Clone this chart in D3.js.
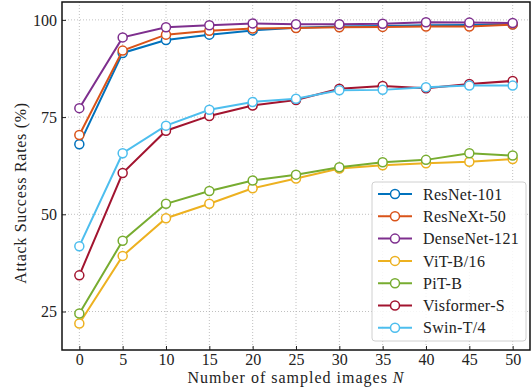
<!DOCTYPE html>
<html>
<head>
<meta charset="utf-8">
<script src="https://cdn.jsdelivr.net/npm/d3@7"></script>
<style>
  body { margin: 0; background: #fff; }
  svg text { font-family: "Liberation Serif", "Times New Roman", serif; fill: #222; }
</style>
</head>
<body>
<main></main>
<script>
const xValues = [0, 5, 10, 15, 20, 25, 30, 35, 40, 45, 50];
const xTicks = [0, 5, 10, 15, 20, 25, 30, 35, 40, 45, 50];
const yTicks = [25, 50, 75, 100];

const resnet101 = [68.0, 91.5, 94.8, 96.2, 97.3, 98.0, 98.3, 98.4, 98.6, 98.7, 98.9];
const resnext50 = [70.4, 92.1, 96.2, 97.2, 97.8, 97.9, 98.1, 98.2, 98.3, 98.3, 98.8];
const densenet121 = [77.3, 95.5, 98.1, 98.6, 99.1, 98.9, 98.9, 99.0, 99.4, 99.3, 99.2];
const vitB16 = [21.9, 39.3, 49.0, 52.7, 56.7, 59.2, 61.8, 62.6, 63.1, 63.5, 64.2];
const pitB = [24.5, 43.2, 52.7, 56.0, 58.7, 60.2, 62.1, 63.4, 64.0, 65.7, 65.1];
const visformerS = [34.3, 60.6, 71.5, 75.3, 78.0, 79.4, 82.3, 83.0, 82.4, 83.5, 84.3];
const swinT4 = [41.8, 65.7, 72.8, 76.9, 78.9, 79.7, 81.9, 82.0, 82.7, 83.1, 83.1];

const seriesNames = ['ResNet-101', 'ResNeXt-50', 'DenseNet-121', 'ViT-B/16', 'PiT-B', 'Visformer-S', 'Swin-T/4'];
const seriesValues = [resnet101, resnext50, densenet121, vitB16, pitB, visformerS, swinT4];
const seriesColors = ['#0072BD', '#D95319', '#7E2F8E', '#EDB120', '#77AC30', '#A2142F', '#4DBEEE'];

const W = 531;
const H = 387;
const margin = { top: 2, right: 1, bottom: 37, left: 62 };
const width = W - margin.left - margin.right;
const height = H - margin.top - margin.bottom;

const series = seriesNames.map((name, i) => ({
  name,
  color: seriesColors[i],
  values: xValues.map((x, j) => ({ x, y: seriesValues[i][j] }))
}));

const $svg = d3.select('main').append('svg').attr('width', W).attr('height', H);
const $g = $svg.append('g').attr('transform', `translate(${margin.left}, ${margin.top})`);

const scaleX = d3.scaleLinear().domain([-2, 52]).range([0, width]);
const scaleY = d3.scaleLinear().domain([15.1, 104.6]).range([height, 0]);

// grid
$g.append('g')
  .selectAll('line')
  .data(xTicks)
  .join('line')
  .attr('x1', d => scaleX(d)).attr('x2', d => scaleX(d))
  .attr('y1', 0).attr('y2', height)
  .attr('stroke', '#b0b0b0').attr('stroke-width', 0.8).attr('stroke-dasharray', '1,2');
$g.append('g')
  .selectAll('line')
  .data(yTicks)
  .join('line')
  .attr('y1', d => scaleY(d)).attr('y2', d => scaleY(d))
  .attr('x1', 0).attr('x2', width)
  .attr('stroke', '#b0b0b0').attr('stroke-width', 0.8).attr('stroke-dasharray', '1,2');

// axes (inward ticks)
const axisX = d3.axisBottom(scaleX).tickValues(xTicks).tickSize(-4).tickPadding(4);
const axisY = d3.axisLeft(scaleY).tickValues(yTicks).tickSize(-4).tickPadding(5);

const $axisX = $g.append('g').attr('transform', `translate(0, ${height})`).call(axisX);
const $axisY = $g.append('g').call(axisY);
[$axisX, $axisY].forEach($a => {
  $a.select('.domain').remove();
  $a.selectAll('.tick line').attr('stroke', '#222').attr('stroke-width', 1);
  $a.selectAll('.tick text').style('font-size', '16px').attr('fill', '#222');
});

// lines and markers
const line = d3.line().x(d => scaleX(d.x)).y(d => scaleY(d.y));
const $series = $g.append('g')
  .selectAll('g')
  .data(series)
  .join('g');

$series.append('path')
  .attr('d', d => line(d.values))
  .attr('fill', 'none')
  .attr('stroke', d => d.color)
  .attr('stroke-width', 2);

$series.selectAll('circle')
  .data(d => d.values.map(v => ({ ...v, color: d.color })))
  .join('circle')
  .attr('cx', d => scaleX(d.x))
  .attr('cy', d => scaleY(d.y))
  .attr('r', 4.5)
  .attr('fill', '#fff')
  .attr('stroke', d => d.color)
  .attr('stroke-width', 1.5);

// frame
$g.append('rect')
  .attr('width', width).attr('height', height)
  .attr('fill', 'none').attr('stroke', '#111').attr('stroke-width', 1.5);

// legend
const $legend = $g.append('g').attr('transform', `translate(${372 - margin.left}, ${182 - margin.top})`);
$legend.append('rect')
  .attr('width', 154).attr('height', 159)
  .attr('rx', 3)
  .attr('fill', 'rgba(255,255,255,0.85)')
  .attr('stroke', '#d0d0d0').attr('stroke-width', 1);

const $item = $legend.selectAll('.g-item')
  .data(series)
  .join('g')
  .attr('class', 'g-item')
  .attr('transform', (d, i) => `translate(0, ${12 + i * 22.3})`);

$item.append('line')
  .attr('x1', 6).attr('x2', 40)
  .attr('stroke', d => d.color).attr('stroke-width', 2);
$item.append('circle')
  .attr('cx', 23).attr('r', 4.5)
  .attr('fill', '#fff').attr('stroke', d => d.color).attr('stroke-width', 1.5);
$item.append('text')
  .attr('x', 51).attr('dy', '0.35em')
  .style('font-size', '16px')
  .style('letter-spacing', '0.3px')
  .text(d => d.name);

// axis titles
$svg.append('text')
  .attr('x', margin.left + scaleX(25))
  .attr('y', 383)
  .attr('text-anchor', 'middle')
  .style('font-size', '16px')
  .style('letter-spacing', '1px')
  .html('Number of sampled images <tspan font-style="italic">N</tspan>');

$svg.append('text')
  .attr('transform', `translate(26, 193) rotate(-90)`)
  .attr('text-anchor', 'middle')
  .style('font-size', '16px')
  .style('letter-spacing', '0.7px')
  .text('Attack Success Rates (%)');
</script>
</body>
</html>
